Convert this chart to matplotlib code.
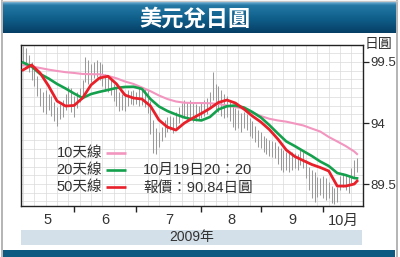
import numpy as np
import pandas as pd
import matplotlib
matplotlib.use('Agg')
import matplotlib.pyplot as plt
from matplotlib.patches import Rectangle
from matplotlib.colors import LinearSegmentedColormap

# ---------------- data ----------------
dates = pd.bdate_range('2009-05-06', '2009-10-19')

highs = [100.94, 100.76, 100.13, 99.50, 98.96, 98.24, 97.16, 96.80, 96.98, 96.61,
         96.43, 95.89, 95.44, 95.71, 96.07, 96.61, 97.34, 97.16, 96.43, 96.80,
         97.16, 97.88, 99.95, 99.68, 99.32, 99.50, 99.68, 99.50, 99.32, 98.42,
         98.24, 98.06, 97.52, 97.16, 96.80, 96.61, 96.70, 96.98, 96.89, 96.98,
         96.80, 97.16, 97.25, 97.16, 96.98, 95.98, 94.27, 93.63, 93.34, 93.70,
         94.27, 94.54, 94.63, 94.54, 94.99, 95.44, 95.80, 96.07, 95.89, 96.07,
         95.80, 95.71, 95.53, 95.80, 96.07, 96.25, 96.80, 98.60, 97.52, 97.34,
         96.98, 96.61, 96.43, 95.89, 95.53, 95.35, 95.17, 94.90, 94.99, 94.81,
         94.45, 94.18, 93.78, 93.48, 93.34, 93.04, 92.89, 92.75, 92.67, 92.60,
         92.30, 92.16, 92.01, 91.86, 91.79, 91.86, 91.79, 91.71, 92.01, 91.86,
         91.27, 90.75, 90.53, 90.39, 90.02, 89.94, 90.09, 89.94, 89.65, 89.35,
         89.20, 89.28, 90.09, 90.31, 90.16, 90.02, 90.68, 91.27, 91.42]
lows = [99.50, 98.96, 98.60, 97.88, 97.34, 96.43, 95.53, 94.99, 94.81, 95.17,
        94.63, 94.18, 93.78, 94.36, 94.54, 95.17, 95.71, 94.99, 94.54, 95.35,
        95.89, 96.34, 97.70, 97.52, 97.70, 98.06, 98.15, 97.88, 97.34, 96.89,
        96.80, 96.52, 95.98, 95.53, 95.08, 95.17, 95.08, 95.53, 95.71, 95.62,
        95.71, 95.53, 95.62, 95.44, 94.90, 93.19, 91.79, 91.71, 92.23, 92.67,
        92.97, 93.34, 93.48, 93.26, 93.63, 94.00, 94.45, 94.54, 94.27, 94.27,
        94.09, 94.18, 94.27, 94.45, 94.63, 94.81, 95.35, 96.07, 95.17, 94.99,
        94.63, 94.45, 94.54, 94.18, 93.70, 93.48, 93.63, 93.34, 93.63, 93.48,
        93.04, 92.89, 92.60, 92.23, 92.16, 91.86, 91.71, 91.57, 91.49, 91.42,
        90.98, 90.53, 90.39, 90.53, 90.39, 90.53, 90.68, 90.53, 90.90, 90.68,
        89.94, 89.06, 88.47, 88.17, 88.54, 88.69, 88.47, 88.32, 88.47, 88.10,
        88.02, 88.17, 89.06, 89.28, 89.06, 88.84, 89.57, 90.02, 90.39]

# moving averages sampled every third trading day (plus the last day)
ma_days = list(range(0, 118, 3)) + [118]
ma_pink = [99.21, 99.09, 98.96, 98.81, 98.69, 98.58, 98.51, 98.42, 98.40, 98.39,
           98.24, 98.03, 97.74, 97.52, 97.20, 96.87, 96.48, 96.16, 95.94, 95.83,
           95.80, 95.80, 95.78, 95.71, 95.58, 95.44, 95.28, 94.95, 94.63, 94.38,
           94.23, 94.12, 93.96, 93.82, 93.59, 93.37, 92.97, 92.64, 92.30, 91.90, 91.71]
ma_green = [99.45, 99.09, 98.42, 98.01, 97.52, 97.11, 96.66, 96.25, 96.61, 96.81,
            96.98, 97.16, 97.25, 97.27, 97.07, 96.16, 95.49, 95.08, 94.77, 94.50,
            94.32, 94.23, 94.54, 95.22, 95.51, 95.58, 95.40, 94.99, 94.50, 93.85,
            93.23, 92.64, 92.30, 91.93, 91.57, 91.16, 90.83, 90.31, 90.16, 89.94, 89.92]
ma_red = [98.78, 99.23, 98.51, 97.34, 95.98, 95.53, 95.58, 96.25, 97.43, 98.06,
          98.21, 97.52, 96.52, 96.25, 96.16, 95.53, 94.27, 93.70, 93.48, 94.00,
          94.45, 94.86, 95.31, 95.85, 96.07, 95.80, 95.26, 94.63, 94.09, 93.52,
          92.82, 92.01, 91.53, 91.23, 90.94, 90.72, 90.46, 89.35, 89.35, 89.50, 89.72]

legend_labels = ['10天線', '20天線', '50天線']
month_labels = ['5', '6', '7', '8', '9', '10月']
y_ticks = [89.5, 94, 99.5]
y_tick_labels = ['89.5', '94', '99.5']
title = '美元兌日圓'
unit = '日圓'
year_label = '2009年'
note_lines = ['10月19日20：20', '報價：90.84日圓']

# ---------------- style ----------------
C_PINK = '#f296bf'
C_GREEN = '#14a04c'
C_RED = '#e8202a'
C_BAR = '#9a9a9a'
FAM = ['Liberation Sans', 'Noto Sans CJK TC']
TXT = '#333333'

W, H = 400, 257
fig = plt.figure(figsize=(W / 100, H / 100), dpi=100)
fig.patch.set_facecolor('white')

# piecewise-linear value axis (tick marks are equally spaced in the source)
def fwd(v):
    v = np.asarray(v, dtype=float)
    return np.where(v >= 94, (v - 94) / 5.5, (v - 94) / 4.5)

def inv(u):
    u = np.asarray(u, dtype=float)
    return np.where(u >= 0, 94 + u * 5.5, 94 + u * 4.5)

ax = fig.add_axes([21 / W, 1 - 206 / H, 342 / W, 161 / H])
ax.set_facecolor('white')
ax.set_yscale('function', functions=(fwd, inv))

x = np.arange(len(dates))
ax.vlines(x, lows, highs, color=C_BAR, lw=0.75, zorder=3)
ax.plot(ma_days, ma_pink, color=C_PINK, lw=1.5, zorder=4, solid_joinstyle='round')
ax.plot(ma_days, ma_green, color=C_GREEN, lw=1.9, zorder=5, solid_joinstyle='round')
ax.plot(ma_days, ma_red, color=C_RED, lw=2.0, zorder=6, solid_joinstyle='round')

xlim = (-0.74, 120.1)
ax.set_xlim(*xlim)
ax.set_ylim(87.88, 101.03)

# y ticks on right
ax.yaxis.tick_right()
ax.set_yticks(y_ticks)
ax.set_yticklabels(y_tick_labels, fontfamily=FAM, fontsize=9.5, color=TXT)
minor_u = np.arange(-9, 9) / 7.0
ax.set_yticks(inv(minor_u), minor=True)
ax.tick_params(axis='y', which='major', direction='out', length=4, width=0.9,
               pad=1.5, colors='#222222', labelcolor=TXT)
ax.tick_params(axis='y', which='minor', length=0)

# month boundary ticks on bottom
months = dates.month.values
starts = [int(i) for i in np.where(np.diff(months) != 0)[0] + 1]
ax.set_xticks(starts)
ax.set_xticklabels([''] * len(starts))
ax.set_xticks(np.arange(0, 121, 4), minor=True)
ax.tick_params(axis='x', which='major', direction='out', length=4, width=1,
               colors='#222222')
ax.tick_params(axis='x', which='minor', length=0)

ax.grid(True, which='minor', axis='x', color='#dadada', lw=0.5, zorder=0)
ax.grid(True, which='both', axis='y', color='#dadada', lw=0.5, zorder=0)
ax.set_axisbelow(True)
for s in ax.spines.values():
    s.set_color('#222222')
    s.set_linewidth(1.0)

# month labels centred between boundaries
bounds = [xlim[0]] + starts + [xlim[1]]
trans = matplotlib.transforms.blended_transform_factory(ax.transData, ax.transAxes)
for k, lab in enumerate(month_labels):
    xm = (bounds[k] + bounds[k + 1]) / 2
    ax.text(xm, -0.09, lab, transform=trans, ha='center', va='center',
            fontfamily=FAM, fontsize=10.5, color=TXT)

# ---------------- overlay (frame, banner, legend) ----------------
ov = fig.add_axes([0, 0, 1, 1], zorder=10)
ov.patch.set_alpha(0)
ov.axis('off')

cmap = LinearSegmentedColormap.from_list(
    'ban', [(0, '#6aacd2'), (0.1, '#2478a4'), (0.55, '#0f5e8a'), (1, '#063f66')])
grad = np.linspace(0, 1, 64).reshape(-1, 1)
ov.imshow(grad, cmap=cmap, extent=(3, 396, 33, 2), aspect='auto', zorder=1)
ov.text(195, 18.5, title, ha='center', va='center', color='white',
        fontfamily=['Noto Sans CJK TC'], fontweight='bold', fontsize=16, zorder=3)

ov.plot([2, 2], [0, 257], color='#a8a8a8', lw=1.2)
ov.plot([397, 397], [0, 257], color='#a8a8a8', lw=1.2)
ov.plot([2, 397], [1, 1], color='#c8c8c8', lw=1)

ov.add_patch(Rectangle((21, 230), 341, 14.5, facecolor='#d3dfe9', edgecolor='none'))
ov.text(191.5, 237.5, year_label, ha='center', va='center', fontfamily=FAM,
        fontsize=10, color=TXT)
ov.add_patch(Rectangle((3, 250), 392, 7, facecolor='#0c5a82', edgecolor='none'))

ov.text(378.5, 44, unit, ha='center', va='center', fontfamily=FAM,
        fontsize=10, color=TXT)

leg_y = [153, 170, 187]
for lab, col, yy in zip(legend_labels, [C_PINK, C_GREEN, C_RED], leg_y):
    ov.text(102, yy, lab, ha='right', va='center', fontfamily=FAM,
            fontsize=10.5, color=TXT)
    ov.plot([106, 126], [yy, yy], color=col, lw=1.9, solid_capstyle='butt')

ov.text(143, 169.5, note_lines[0], ha='left', va='center', fontfamily=FAM,
        fontsize=10.5, color=TXT)
ov.text(143, 187.5, note_lines[1], ha='left', va='center', fontfamily=FAM,
        fontsize=10.5, color=TXT)

ov.set_xlim(0, W)
ov.set_ylim(H, 0)

fig.savefig('out.png', dpi=100)
